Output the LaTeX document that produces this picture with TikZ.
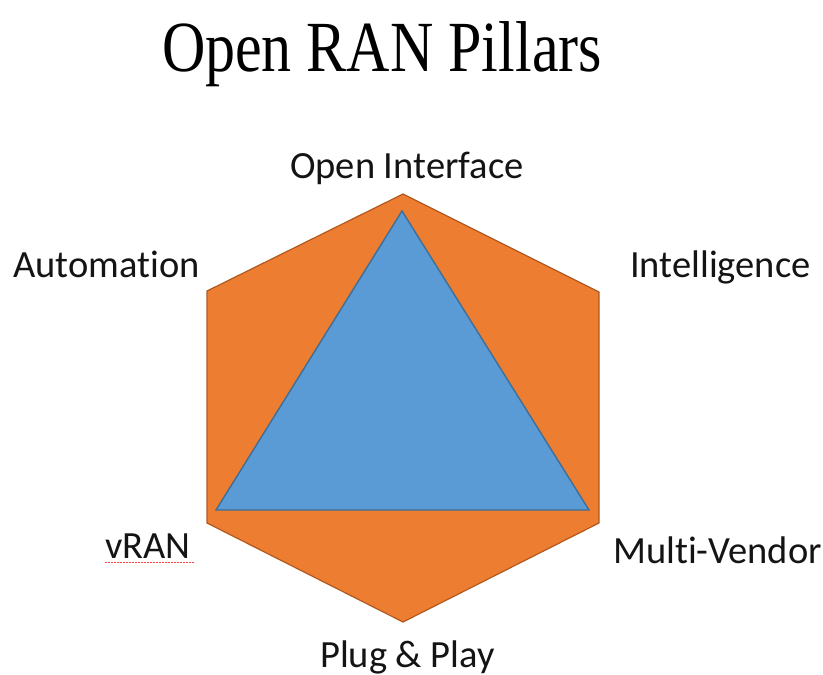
\documentclass[tikz,border=0pt]{standalone}
\usepackage{fontspec}
\setmainfont{Liberation Serif}
\newfontfamily\labfont[Ligatures=NoCommon]{Carlito}
\definecolor{hexorange}{HTML}{ED7D31}
\definecolor{hexborder}{HTML}{B05A1F}
\definecolor{tribleu}{HTML}{5B9BD5}
\definecolor{triborder}{HTML}{3F6E96}
\definecolor{labcol}{HTML}{141414}
\begin{document}
\begin{tikzpicture}[x=1pt,y=-1pt,
  lab/.style={inner sep=0pt,anchor=base west,text=labcol,font=\labfont\fontsize{38.5}{40}\selectfont},
  hexshape/.style={fill=hexorange,draw=hexborder,line width=1.2pt,line join=miter},
  trishape/.style={fill=tribleu,draw=triborder,line width=1.4pt,line join=miter}]
\useasboundingbox (0,0) rectangle (823,675);
\fill[white] (0,0) rectangle (823,675);
% title
\node[inner sep=0pt,anchor=base,yscale=1.2,transform shape,text=black,font=\fontsize{60}{64}\selectfont] (title) at (382,71) {Open RAN Pillars};
% hexagon
\coordinate (h1) at (403,194);
\coordinate (h2) at (599,292);
\coordinate (h3) at (599,523);
\coordinate (h4) at (403,622);
\coordinate (h5) at (207,523);
\coordinate (h6) at (207,291);
\draw[hexshape] (h1) -- (h2) -- (h3) -- (h4) -- (h5) -- (h6) -- cycle;
% triangle
\coordinate (t1) at (402,211);
\coordinate (t2) at (589,510);
\coordinate (t3) at (216,510);
\draw[trishape] (t1) -- (t2) -- (t3) -- cycle;
% labels
\node[lab] (oi) at (290,178) {Open Interface};
\node[lab] (auto) at (13,277) {Automation};
\node[lab] (intel) at (630,277) {Intelligence};
\node[lab] (vran) at (105,558) {vRAN};
\node[lab] (mv) at (613,563) {Multi-Vendor};
\node[lab] (pp) at (320,667) {Plug \& Play};
\draw[red!75,line width=1.6pt,dash pattern=on 1.5pt off 1.5pt] ([yshift=-4.5pt]vran.base west) -- ([yshift=-4.5pt,xshift=4pt]vran.base east);
\end{tikzpicture}
\end{document}
